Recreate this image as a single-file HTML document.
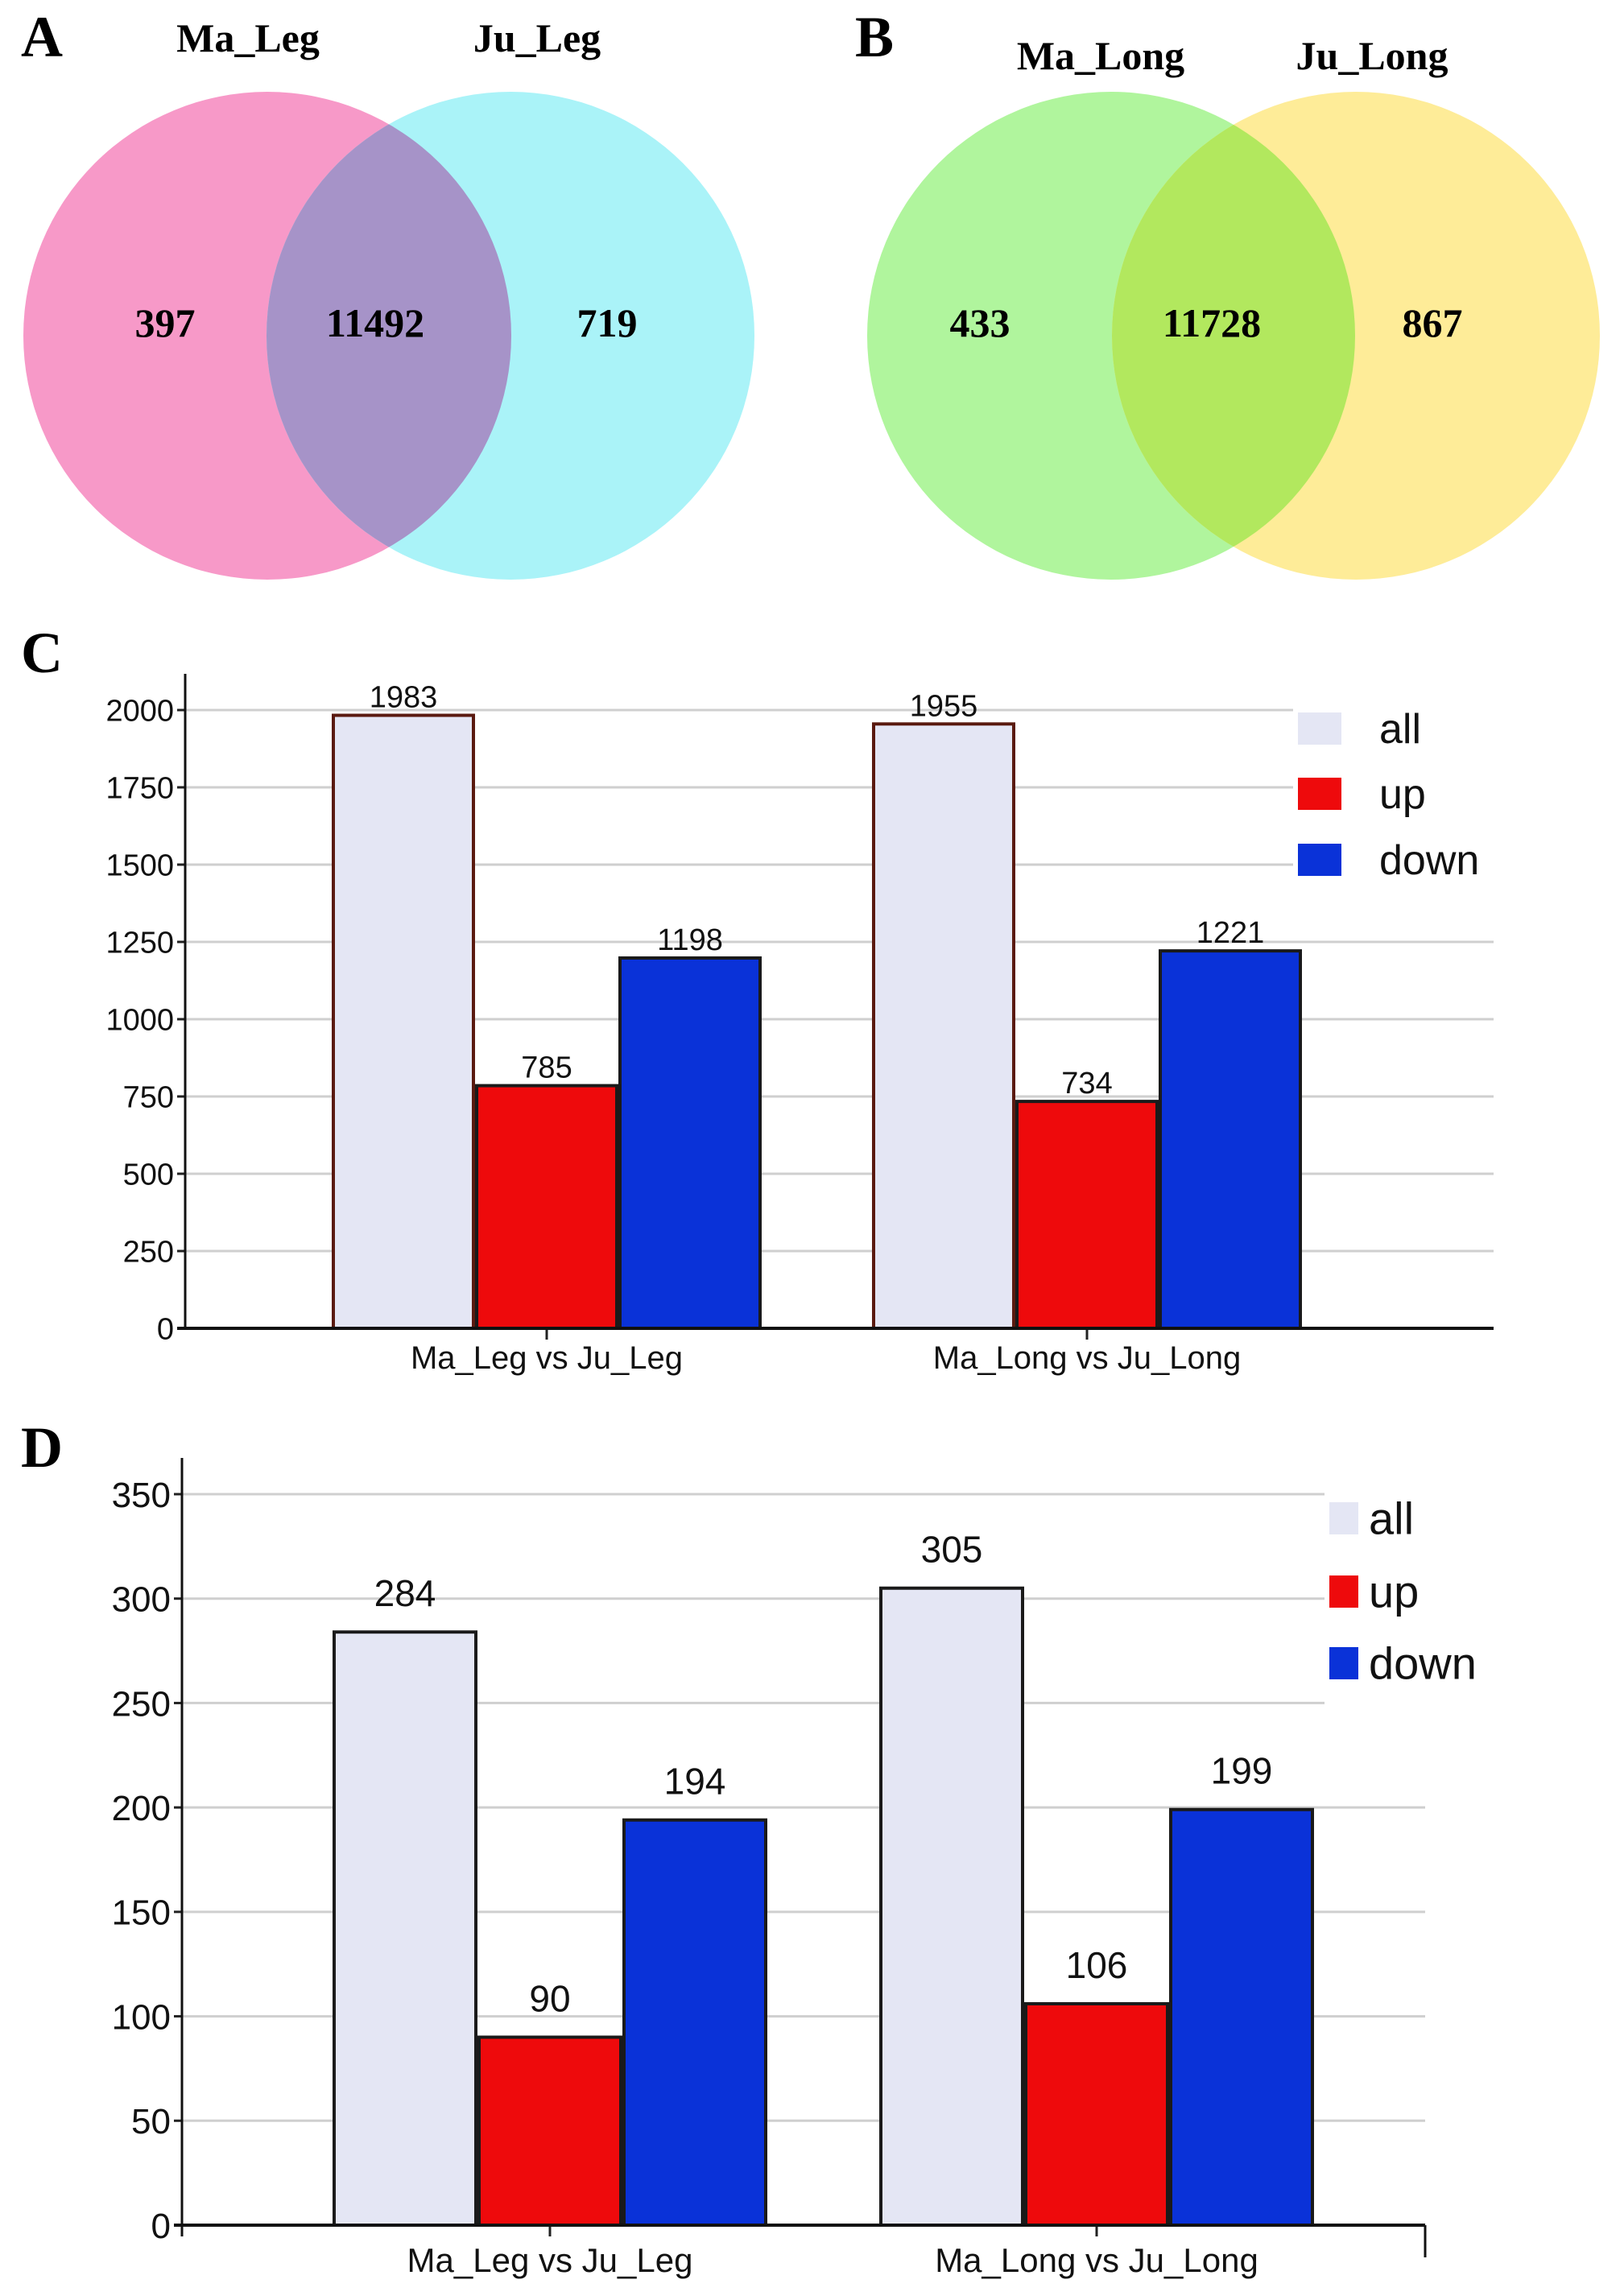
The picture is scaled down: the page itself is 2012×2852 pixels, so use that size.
<!DOCTYPE html>
<html><head><meta charset="utf-8"><style>
body{margin:0;background:#fff}
svg{display:block}
.ser{font-family:"Liberation Serif",serif;font-weight:bold}
.sans{font-family:"Liberation Sans",sans-serif}
</style></head><body>
<svg id="fig" width="2012" height="2852" viewBox="0 0 2012 2852" xmlns="http://www.w3.org/2000/svg">
<g>
<text class="ser" x="26" y="70" font-size="72">A</text>
<text class="ser" x="308" y="64" font-size="50" text-anchor="middle">Ma_Leg</text>
<text class="ser" x="667" y="64" font-size="50" text-anchor="middle">Ju_Leg</text>
<ellipse cx="332" cy="417" rx="303" ry="303" fill="#f799c8"/>
<ellipse cx="634" cy="417" rx="303" ry="303" fill="#aaf3f8"/>
<clipPath id="ca"><ellipse cx="332" cy="417" rx="303" ry="303"/></clipPath>
<ellipse cx="634" cy="417" rx="303" ry="303" fill="#a693c8" clip-path="url(#ca)"/>
<text class="ser" x="205" y="418" font-size="50" text-anchor="middle">397</text>
<text class="ser" x="466" y="418" font-size="50" text-anchor="middle">11492</text>
<text class="ser" x="754" y="418" font-size="50" text-anchor="middle">719</text>
</g>
<g>
<text class="ser" x="1062" y="70" font-size="72">B</text>
<text class="ser" x="1367" y="86" font-size="50" text-anchor="middle">Ma_Long</text>
<text class="ser" x="1704" y="86" font-size="50" text-anchor="middle">Ju_Long</text>
<ellipse cx="1380" cy="417" rx="303" ry="303" fill="#b0f59d"/>
<ellipse cx="1684" cy="417" rx="303" ry="303" fill="#feec98"/>
<clipPath id="cb"><ellipse cx="1380" cy="417" rx="303" ry="303"/></clipPath>
<ellipse cx="1684" cy="417" rx="303" ry="303" fill="#b2e85e" clip-path="url(#cb)"/>
<text class="ser" x="1217" y="418" font-size="50" text-anchor="middle">433</text>
<text class="ser" x="1505" y="418" font-size="50" text-anchor="middle">11728</text>
<text class="ser" x="1779" y="418" font-size="50" text-anchor="middle">867</text>
</g>
<text class="ser" x="26" y="835" font-size="72">C</text>
<text class="ser" x="26" y="1822" font-size="72">D</text>
<g id="chartC"></g>
<g id="chartD"></g>
</svg>
<script>
const categories = ["Ma_Leg vs Ju_Leg", "Ma_Long vs Ju_Long"];
const seriesNames = ["all", "up", "down"];
const cAll = [1983, 1955];
const cUp = [785, 734];
const cDown = [1198, 1221];
const cTicks = [0, 250, 500, 750, 1000, 1250, 1500, 1750, 2000];
const dAll = [284, 305];
const dUp = [90, 106];
const dDown = [194, 199];
const dTicks = [0, 50, 100, 150, 200, 250, 300, 350];

const NS = "http://www.w3.org/2000/svg";
const colors = ["#e4e6f4", "#ee0a0c", "#0a32d8"];
function mk(parent, tag, attrs, text) {
  const e = document.createElementNS(NS, tag);
  for (const k in attrs) e.setAttribute(k, attrs[k]);
  if (text !== undefined) e.textContent = text;
  parent.appendChild(e);
  return e;
}
function drawChart(g, cfg, series, ticks) {
  const yScale = v => cfg.y0 - (v - ticks[0]) / (ticks[ticks.length - 1] - ticks[0]) * (cfg.y0 - cfg.yTop);
  ticks.forEach((t, i) => {
    const y = yScale(t);
    const gl = mk(g, "line", {x1: cfg.x0, x2: i >= cfg.shortFrom ? cfg.legX - 6 : cfg.xEnd, y1: y, y2: y, stroke: "#cfcfcf", "stroke-width": 3});
    
    
    const tk = mk(g, "line", {x1: cfg.x0 - 10, x2: cfg.x0, y1: y, y2: y, stroke: "#222", "stroke-width": 3});
    
    
    const tl = mk(g, "text", {x: cfg.x0 - 14, y: y + cfg.tickFs * 0.36, "text-anchor": "end", "font-size": cfg.tickFs, class: "sans", fill: "#111"}, String(t));
    
    
  });
  categories.forEach((c, ci) => {
    series.forEach((s, si) => {
      const x = cfg.groupX[ci] + si * cfg.barStep;
      const y = yScale(s[ci]);
      const r = mk(g, "rect", {x: x, y: y, width: cfg.barW, height: cfg.y0 - y, fill: colors[si], stroke: si === 0 && cfg.redEdge ? "#5a1a10" : "#1a1a1a", "stroke-width": 4});
      
      
      const vl = mk(g, "text", {x: x + cfg.barW / 2, y: y - 10 - cfg.valPad, "text-anchor": "middle", "font-size": cfg.valFs, class: "sans", fill: "#111"}, String(s[ci]));
      
      
    });
    const cx = cfg.groupX[ci] + cfg.barStep * 1.5 - (cfg.barStep - cfg.barW) / 2;
    const ct = mk(g, "line", {x1: cx, x2: cx, y1: cfg.y0, y2: cfg.y0 + 14, stroke: "#222", "stroke-width": 3});
    
    
    const cl = mk(g, "text", {x: cx, y: cfg.catY, "text-anchor": "middle", "font-size": cfg.catFs, class: "sans", fill: "#111"}, c);
    
    
  });
  const ax = mk(g, "line", {x1: cfg.x0, x2: cfg.x0, y1: cfg.yTop - 45, y2: cfg.y0 + (cfg.dTicks ? 14 : 0), stroke: "#111", "stroke-width": 3});
  
  
  const bx = mk(g, "line", {x1: cfg.x0 - 10, x2: cfg.xEnd, y1: cfg.y0, y2: cfg.y0, stroke: "#111", "stroke-width": 4});
  
  
  if (cfg.dTicks) {
    const et = mk(g, "line", {x1: cfg.xEnd, x2: cfg.xEnd, y1: cfg.y0, y2: cfg.y0 + 40, stroke: "#111", "stroke-width": 3});
    
    
  }
  seriesNames.forEach((n, i) => {
    const ly = cfg.legY[i];
    const sq = mk(g, "rect", {x: cfg.legX, y: ly - cfg.legS / 2, width: cfg.legW, height: cfg.legS, fill: colors[i]});
    
    
    const lt = mk(g, "text", {x: cfg.legTx, y: ly + cfg.legFs * 0.35, "font-size": cfg.legFs, class: "sans", fill: "#111"}, n);
    
    
  });
}
drawChart(document.getElementById("chartC"), {
  x0: 230, xEnd: 1855, y0: 1650, yTop: 882, shortFrom: 6, legX: 1612, legW: 54, legS: 40,
  groupX: [414, 1085], barW: 174, barStep: 178, tickFs: 38, valFs: 38, valPad: 0,
  catY: 1700, catFs: 40, legY: [905, 986, 1068], legTx: 1713, legFs: 52, redEdge: true
}, [cAll, cUp, cDown], cTicks);
drawChart(document.getElementById("chartD"), {
  x0: 226, xEnd: 1770, y0: 2764, yTop: 1856, shortFrom: 5, legX: 1651, legW: 36, legS: 40,
  groupX: [415, 1094], barW: 176, barStep: 180, tickFs: 44, valFs: 46, valPad: 22,
  catY: 2822, catFs: 42, legY: [1886, 1977, 2066], legTx: 1700, legFs: 56, redEdge: false, dTicks: true
}, [dAll, dUp, dDown], dTicks);
</script>
</body></html>
